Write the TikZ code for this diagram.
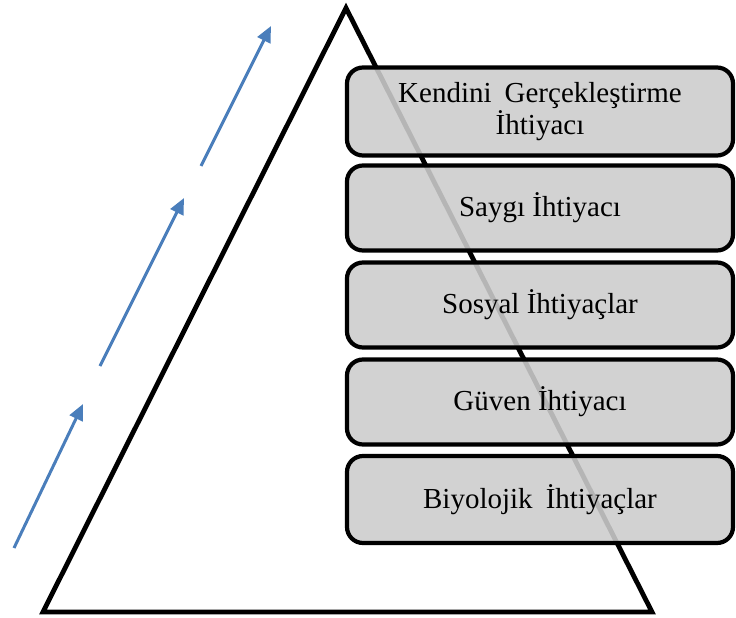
\documentclass[tikz,border=0pt]{standalone}
\usepackage{fontspec}
\setmainfont{Liberation Serif}
\usetikzlibrary{arrows.meta}
\definecolor{arrowblue}{RGB}{74,126,187}
\begin{document}
\begin{tikzpicture}[x=1pt,y=-1pt,
  lvl/.style={draw=black, line width=4.2pt, rounded corners=16pt, fill=black!20,
    fill opacity=0.89, text opacity=1, minimum width=386pt, align=center,
    font=\fontsize{29}{35}\selectfont, inner sep=0pt},
  up/.style={draw=arrowblue, line width=3pt, -{Triangle[length=16pt,width=14pt]}}]
\useasboundingbox (0,0) rectangle (736,618);
% pyramid
\coordinate (A) at (346,8);
\coordinate (B) at (43,612);
\coordinate (C) at (652,612);
\draw[line width=4.8pt, line join=miter] (A) -- (B) -- (C) -- cycle;
% levels
\node[lvl, minimum height=88pt] (n1) at (540,111.5) {Kendini\hspace{0.45em}Gerçekleştirme\\[-3pt]İhtiyacı};
\node[lvl, minimum height=85pt] (n2) at (540,208) {Saygı İhtiyacı};
\node[lvl, minimum height=85pt] (n3) at (540,305) {Sosyal İhtiyaçlar};
\node[lvl, minimum height=85pt] (n4) at (540,402) {Güven İhtiyacı};
\node[lvl, minimum height=87pt] (n5) at (540,499.5) {Biyolojik\hspace{0.45em}İhtiyaçlar};
% arrows
\coordinate (a1s) at (14,548);  \coordinate (a1e) at (83,404);
\coordinate (a2s) at (100,366); \coordinate (a2e) at (184,198);
\coordinate (a3s) at (201,166); \coordinate (a3e) at (271,26);
\draw[up] (a1s) -- (a1e);
\draw[up] (a2s) -- (a2e);
\draw[up] (a3s) -- (a3e);
\end{tikzpicture}
\end{document}
